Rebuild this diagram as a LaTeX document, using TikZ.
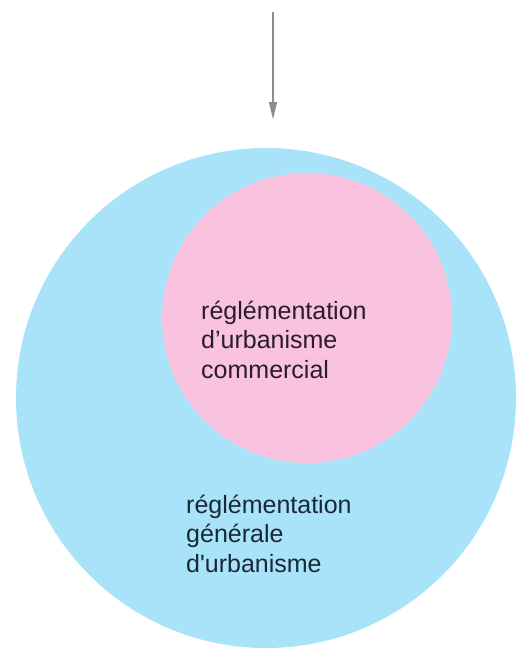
\documentclass[tikz,border=0pt]{standalone}
\usepackage{fontspec}
\setmainfont{Liberation Sans}[Ligatures=TeXOff]
\usetikzlibrary{arrows.meta}
\definecolor{outerblue}{HTML}{A8E3F9}
\definecolor{innerpink}{HTML}{F9C3E0}
\definecolor{arrowgray}{HTML}{8C8C8C}
\definecolor{pinktext}{HTML}{2B1B2B}
\definecolor{bluetext}{HTML}{1A2836}
\begin{document}
\begin{tikzpicture}[x=1pt,y=-1pt,
  zone/.style={circle,inner sep=0pt,draw=none},
  label/.style={inner sep=0pt,anchor=base west,align=left,font=\fontsize{25}{29.3}\selectfont},
  flow/.style={draw=arrowgray,line width=1.4pt,-{Triangle[length=17pt,width=8pt]}}]
  \useasboundingbox (0,0) rectangle (517,651);
  \node[zone,fill=outerblue,minimum size=500pt] (general) at (266,398) {};
  \node[zone,fill=innerpink,minimum size=290pt] (commercial) at (307,318) {};
  \node[label,text=pinktext] (tcommercial) at (201,378) {réglémentation\\d’urbanisme\\commercial};
  \node[label,text=bluetext] (tgeneral) at (186,572) {réglémentation\\générale\\d'urbanisme};
  \coordinate (src) at (273,12);
  \coordinate (dst) at (273,119);
  \draw[flow] (src) -- (dst);
\end{tikzpicture}
\end{document}
